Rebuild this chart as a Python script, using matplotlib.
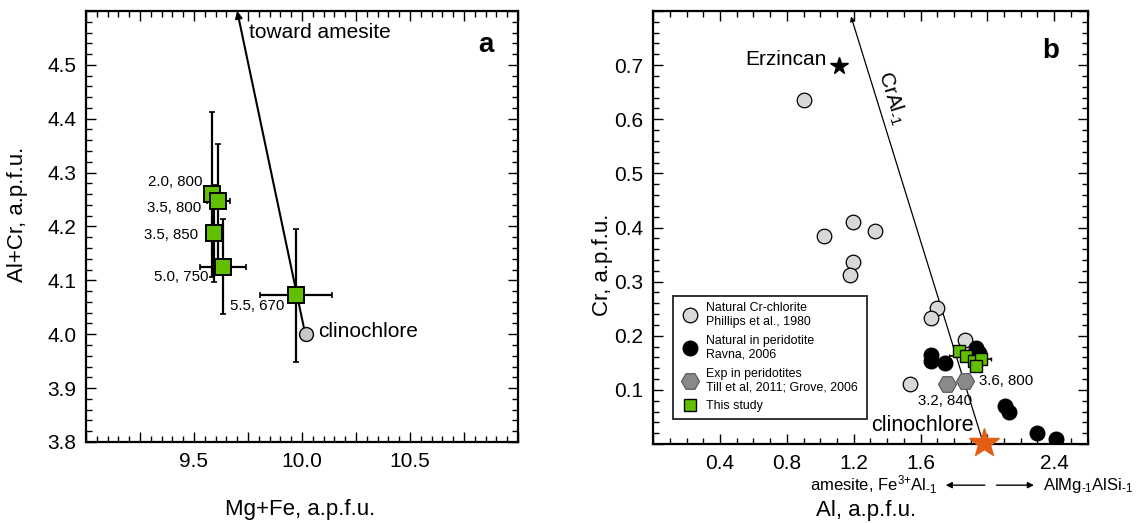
import matplotlib
matplotlib.use("Agg")
import matplotlib.pyplot as plt
from matplotlib.ticker import MultipleLocator, FuncFormatter
import numpy as np

plt.rcParams['font.family'] = ['Liberation Sans', 'DejaVu Sans']
plt.rcParams['mathtext.fontset'] = 'custom'
plt.rcParams['mathtext.rm'] = 'Liberation Sans'
plt.rcParams['mathtext.it'] = 'Liberation Sans:italic'
plt.rcParams['mathtext.bf'] = 'Liberation Sans:bold'

# panel a: this study, Mg+Fe vs Al+Cr
run_labels = ["2.0, 800", "3.5, 800", "3.5, 850", "5.0, 750", "5.5, 670"]
mgfe = [9.583, 9.612, 9.593, 9.635, 9.973]
alcr = [4.260, 4.247, 4.187, 4.125, 4.072]
mgfe_err = [0.02, 0.053, 0.03, 0.107, 0.165]
alcr_err = [0.153, 0.107, 0.09, 0.088, 0.124]
clino_a = (10.02, 4.0)
amesite_dir = (9.70, 4.60)

# panel b: Al vs Cr
phil_al = [0.90, 1.025, 1.194, 1.33, 1.194, 1.176, 1.70, 1.66, 1.867, 1.54]
phil_cr = [0.636, 0.385, 0.411, 0.394, 0.336, 0.313, 0.251, 0.232, 0.193, 0.110]
ravna_al = [1.66, 1.66, 1.745, 1.934, 1.95, 2.105, 2.13, 2.295, 2.414]
ravna_cr = [0.165, 0.154, 0.150, 0.177, 0.168, 0.070, 0.059, 0.020, 0.009]
exp_al = [1.757, 1.867]
exp_cr = [0.110, 0.116]
exp_labels = ["3.2, 840", "3.6, 800"]
study_al = [1.83, 1.87, 1.92, 1.96, 1.93]
study_cr = [0.172, 0.163, 0.154, 0.157, 0.145]
study_al_err = [0.03, 0.10, 0.03, 0.06, 0.03]
study_cr_err = [0.01, 0.01, 0.01, 0.01, 0.01]
erzincan = (1.115, 0.699)
clino_b = (1.98, 0.002)
cral_end = (1.184, 0.79)

green = '#62bf00'

fig = plt.figure(figsize=(11.46, 5.23), dpi=100)
axa = fig.add_axes([0.075, 0.155, 0.377, 0.824])
axb = fig.add_axes([0.570, 0.151, 0.379, 0.828])


def style_axes(ax):
    for s in ax.spines.values():
        s.set_linewidth(1.6)
    ax.tick_params(which='both', direction='in', top=True, right=True,
                   labelsize=15, width=1.0)
    ax.tick_params(which='major', length=7, pad=7)
    ax.tick_params(which='minor', length=4)


# ---- panel a
axa.set_xlim(9.0, 11.0)
axa.set_ylim(3.8, 4.6)
style_axes(axa)
axa.xaxis.set_major_locator(MultipleLocator(0.25))
axa.xaxis.set_minor_locator(MultipleLocator(0.05))
axa.xaxis.set_major_formatter(FuncFormatter(
    lambda v, p: f"{v:.1f}" if abs(v * 2 - round(v * 2)) < 1e-6 and 9.4 < v < 10.6 else ""))
axa.yaxis.set_major_locator(MultipleLocator(0.1))
axa.yaxis.set_minor_locator(MultipleLocator(0.02))
axa.yaxis.set_major_formatter(FuncFormatter(lambda v, p: f"{v:.1f}" if v < 4.55 else ""))

axa.annotate("", xy=amesite_dir, xytext=(clino_a[0] - 0.01, clino_a[1] + 0.01),
             arrowprops=dict(arrowstyle='-|>', color='black', lw=1.5,
                             mutation_scale=10, shrinkA=0, shrinkB=0))
axa.errorbar(mgfe, alcr, xerr=mgfe_err, yerr=alcr_err, fmt='none',
             ecolor='black', elinewidth=1.6, capsize=2, capthick=1.2, zorder=3)
axa.plot(mgfe, alcr, 's', ms=11, mfc=green, mec='black', mew=1.4, zorder=4)
axa.plot(*clino_a, 'o', ms=10, mfc='#c8c8c8', mec='black', mew=1.0, zorder=4)

label_pos_a = [(9.54, 4.283), (9.535, 4.235), (9.52, 4.184), (9.565, 4.107), (9.918, 4.052)]
for lab, (lx, ly) in zip(run_labels, label_pos_a):
    axa.text(lx, ly, lab, ha='right', va='center', fontsize=10.8)
axa.text(10.075, 4.005, "clinochlore", ha='left', va='center', fontsize=15)
axa.text(9.755, 4.56, "toward amesite", ha='left', va='center', fontsize=15)
axa.text(10.85, 4.537, "a", ha='center', va='center', fontsize=20, fontweight='bold')
axa.set_xlabel("Mg+Fe, a.p.f.u.", fontsize=16)
axa.xaxis.set_label_coords(0.495, -0.132)
axa.set_ylabel("Al+Cr, a.p.f.u.", fontsize=16)
axa.yaxis.set_label_coords(-0.134, 0.527)

# ---- panel b
axb.set_xlim(0.0, 2.6)
axb.set_ylim(0.0, 0.8)
style_axes(axb)
axb.xaxis.set_major_locator(MultipleLocator(0.4))
axb.xaxis.set_minor_locator(MultipleLocator(0.1))
axb.xaxis.set_major_formatter(FuncFormatter(
    lambda v, p: f"{v:.1f}" if v > 0.2 and abs(v - 2.0) > 0.05 else ""))
axb.yaxis.set_major_locator(MultipleLocator(0.1))
axb.yaxis.set_minor_locator(MultipleLocator(0.02))
axb.yaxis.set_major_formatter(FuncFormatter(
    lambda v, p: f"{v:.1f}" if 0.05 < v < 0.75 else ""))

axb.annotate("", xy=cral_end, xytext=(clino_b[0] - 0.015, clino_b[1] + 0.01),
             arrowprops=dict(arrowstyle='-|>', color='black', lw=0.9,
                             mutation_scale=7, shrinkA=0, shrinkB=0))
h1, = axb.plot(phil_al, phil_cr, 'o', ms=10.5, mfc='#d8d8d8', mec='black', mew=0.9,
               zorder=3, label="Natural Cr-chlorite\nPhillips et al., 1980")
h2, = axb.plot(ravna_al, ravna_cr, 'o', ms=10.5, mfc='black', mec='black',
               zorder=3, label="Natural in peridotite\nRavna, 2006")
h3, = axb.plot(exp_al, exp_cr, 'H', ms=13, mfc='#8a8a8a', mec='#555555', mew=0.8,
               zorder=3, label="Exp in peridotites\nTill et al, 2011; Grove, 2006")
axb.errorbar(study_al, study_cr, xerr=study_al_err, yerr=study_cr_err, fmt='none',
             ecolor='black', elinewidth=1.2, capsize=1.5, zorder=4)
h4, = axb.plot(study_al, study_cr, 's', ms=8, mfc=green, mec='black', mew=1.0,
               zorder=5, label="This study")
axb.plot(*erzincan, '*', ms=13, mfc='black', mec='black', zorder=5)
axb.plot(*clino_b, '*', ms=22, mfc='#e35d14', mec='#e35d14', zorder=6, clip_on=False)

axb.text(1.04, 0.71, "Erzincan", ha='right', va='center', fontsize=15)
axb.text(1.43, 0.64, r"CrAl$_{\text{-1}}$", ha='center', va='center', fontsize=15,
         rotation=-72.8)
axb.text(1.92, 0.034, "clinochlore", ha='right', va='center', fontsize=15.5)
for lab, x, y, dx, dy in zip(exp_labels, exp_al, exp_cr, [-0.17, 0.085], [-0.031, 0.0]):
    axb.text(x + dx, y + dy, lab, ha='left', va='center', fontsize=10.8)
axb.text(2.38, 0.726, "b", ha='center', va='center', fontsize=20, fontweight='bold')

leg = axb.legend(handles=[h1, h2, h3, h4], loc='lower left',
                 bbox_to_anchor=(0.046, 0.058, 0.446, 0.29), mode='expand',
                 fontsize=8.9, frameon=True, fancybox=False, edgecolor='black',
                 handletextpad=0.5, labelspacing=0.55, borderpad=0.55,
                 handlelength=1.6, borderaxespad=0)
leg.get_frame().set_linewidth(1.4)

axb.text(0.655, -0.095, r"amesite, Fe$^{\text{3+}}$Al$_{\text{-1}}$", transform=axb.transAxes,
         ha='right', va='center', fontsize=12)
axb.text(0.897, -0.095, r"AlMg$_{\text{-1}}$AlSi$_{\text{-1}}$", transform=axb.transAxes,
         ha='left', va='center', fontsize=12)
axb.annotate("", xy=(0.667, -0.095), xytext=(0.770, -0.095), xycoords='axes fraction',
             arrowprops=dict(arrowstyle='-|>', color='black', lw=1.0, mutation_scale=9))
axb.annotate("", xy=(0.883, -0.095), xytext=(0.784, -0.095), xycoords='axes fraction',
             arrowprops=dict(arrowstyle='-|>', color='black', lw=1.0, mutation_scale=9))
axb.set_xlabel("Al, a.p.f.u.", fontsize=16)
axb.xaxis.set_label_coords(0.491, -0.129)
axb.set_ylabel("Cr, a.p.f.u.", fontsize=16)
axb.yaxis.set_label_coords(-0.092, 0.413)

fig.savefig("out.png", dpi=100)
